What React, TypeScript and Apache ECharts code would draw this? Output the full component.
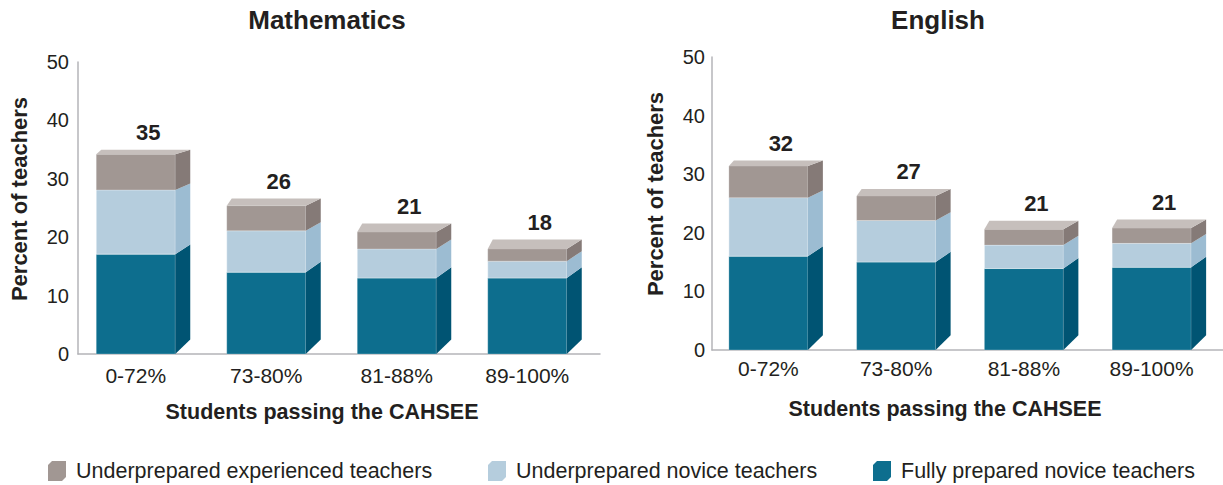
import React, { useEffect, useRef } from 'react';
import * as echarts from 'echarts';

const categories = ['0-72%', '73-80%', '81-88%', '89-100%'];
const seriesNames = [
  'Underprepared experienced teachers',
  'Underprepared novice teachers',
  'Fully prepared novice teachers',
];
const subjects = ['Mathematics', 'English'];

const mathFully = [17.1, 14.0, 13.0, 13.0];
const mathNovice = [11.0, 7.1, 5.0, 2.9];
const mathExperienced = [6.1, 4.3, 2.9, 2.1];
const mathTotals = [35, 26, 21, 18];

const engFully = [16.0, 15.0, 13.9, 14.1];
const engNovice = [10.0, 7.1, 4.0, 4.1];
const engExperienced = [5.4, 4.2, 2.7, 2.6];
const engTotals = [32, 27, 21, 21];

const yMin = 0;
const yMax = 50;
const yInterval = 10;

const FONT = '"Liberation Sans", Arial, Helvetica, sans-serif';
const TEXT = '#231f20';
const AXIS = '#b4b4b8';

const palette = {
  exp: { front: '#a19793', side: '#857a77', top: '#c6bfbc', edge: 'rgba(255,255,255,0.25)' },
  nov: { front: '#b5cddd', side: '#9cbcd2', top: '#d3e2ec', edge: 'rgba(255,255,255,0.5)' },
  full: { front: '#0d6e8e', side: '#005473', top: '#3c8ca8', edge: 'rgba(255,255,255,0.3)' },
};

const makeRender = (c: any, isTop: boolean) => (params: any, api: any) => {
  const i = api.value(0);
  const lo = api.value(1);
  const hi = api.value(2);
  const pLo = api.coord([i, lo]);
  const pHi = api.coord([i, hi]);
  const vp = api.coord([i, yMax])[1];
  const W = 79;
  const D = 15;
  const DL = 5;
  const x0 = pLo[0] - (W + D) / 2;
  const x1 = x0 + W;
  const yb = pLo[1];
  const yt = pHi[1];
  const back = (y: number) => vp + (y - vp) * 0.95;
  const children: any[] = [
    {
      type: 'rect',
      shape: { x: x0, y: yt, width: W, height: yb - yt },
      style: { fill: c.front, stroke: c.edge, lineWidth: 0.8 },
    },
    {
      type: 'polygon',
      shape: { points: [[x1, yt], [x1 + D, back(yt)], [x1 + D, back(yb)], [x1, yb]] },
      style: { fill: c.side },
    },
  ];
  if (isTop) {
    children.push({
      type: 'polygon',
      shape: { points: [[x0, yt], [x1, yt], [x1 + D, back(yt)], [x0 + DL, back(yt)]] },
      style: { fill: c.top },
    });
    children.push({
      type: 'text',
      style: {
        text: String(api.value(3)),
        x: (x0 + x1 + D) / 2 + 5,
        y: back(yt) - 6,
        align: 'center',
        verticalAlign: 'bottom',
        fontSize: 22,
        fontWeight: 'bold',
        fontFamily: FONT,
        fill: TEXT,
      },
    });
  }
  return { type: 'group', children };
};

const buildSeries = (g: number, fully: number[], novice: number[], exp: number[], totals: number[]) => [
  {
    type: 'custom',
    name: seriesNames[2],
    xAxisIndex: g,
    yAxisIndex: g,
    itemStyle: { color: palette.full.front },
    renderItem: makeRender(palette.full, false),
    encode: { x: 0, y: [1, 2] },
    data: categories.map((_, i) => [i, 0, fully[i], 0]),
  },
  {
    type: 'custom',
    name: seriesNames[1],
    xAxisIndex: g,
    yAxisIndex: g,
    itemStyle: { color: palette.nov.front },
    renderItem: makeRender(palette.nov, false),
    encode: { x: 0, y: [1, 2] },
    data: categories.map((_, i) => [i, fully[i], fully[i] + novice[i], 0]),
  },
  {
    type: 'custom',
    name: seriesNames[0],
    xAxisIndex: g,
    yAxisIndex: g,
    itemStyle: { color: palette.exp.front },
    renderItem: makeRender(palette.exp, true),
    encode: { x: 0, y: [1, 2] },
    data: categories.map((_, i) => [i, fully[i] + novice[i], fully[i] + novice[i] + exp[i], totals[i]]),
  },
];

const cubeIcon = 'path://M0,4 L4,0 L18,0 L18,16 L14,20 L0,20 Z';

export default function App() {
  const ref = useRef<HTMLDivElement>(null);

  useEffect(() => {
    if (!ref.current) return;
    const chart = echarts.init(ref.current, null, { renderer: 'svg' });

    const yAxisBase = {
      type: 'value',
      min: yMin,
      max: yMax,
      interval: yInterval,
      axisLine: { show: true, lineStyle: { color: AXIS, width: 1.5 } },
      axisTick: { show: false },
      splitLine: { show: false },
      axisLabel: { fontSize: 20, color: TEXT, fontFamily: FONT, margin: 9 },
    };
    const xAxisBase = {
      type: 'category',
      data: categories,
      axisLine: { show: true, lineStyle: { color: AXIS, width: 1.5 } },
      axisTick: { show: false },
      axisLabel: { fontSize: 21, color: TEXT, fontFamily: FONT, padding: [0, 15, 0, 0] },
    };

    const legendBase = {
      orient: 'horizontal',
      top: 460,
      padding: 0,
      icon: cubeIcon,
      itemWidth: 18,
      itemHeight: 20,
      selectedMode: false,
      textStyle: { fontSize: 21.5, color: TEXT, fontFamily: FONT, padding: [0, 0, 0, 5] },
    };

    const nameStyle = {
      fontSize: 22,
      fontWeight: 'bold',
      fontFamily: FONT,
      fill: TEXT,
      align: 'center',
      verticalAlign: 'middle',
    };

    chart.setOption({
      animation: false,
      backgroundColor: '#ffffff',
      title: [
        {
          text: subjects[0],
          left: 327,
          top: 7,
          padding: 0,
          textAlign: 'center',
          textStyle: { fontSize: 26, fontWeight: 'bold', color: TEXT, fontFamily: FONT },
        },
        {
          text: subjects[1],
          left: 938,
          top: 7,
          padding: 0,
          textAlign: 'center',
          textStyle: { fontSize: 26, fontWeight: 'bold', color: TEXT, fontFamily: FONT },
        },
      ],
      legend: [
        { ...legendBase, left: 48, data: [seriesNames[0]] },
        { ...legendBase, left: 488, data: [seriesNames[1]] },
        { ...legendBase, left: 873, data: [seriesNames[2]] },
      ],
      grid: [
        { left: 78, top: 62, width: 522, height: 292 },
        { left: 712, top: 57, width: 516, height: 293 },
      ],
      xAxis: [
        { ...xAxisBase, gridIndex: 0, axisLabel: { ...xAxisBase.axisLabel, margin: 11 } },
        { ...xAxisBase, gridIndex: 1, axisLabel: { ...xAxisBase.axisLabel, margin: 8 } },
      ],
      yAxis: [
        { ...yAxisBase, gridIndex: 0 },
        { ...yAxisBase, gridIndex: 1, axisLabel: { ...yAxisBase.axisLabel, margin: 7 } },
      ],
      graphic: [
        {
          type: 'text',
          x: 19,
          y: 199,
          rotation: Math.PI / 2,
          style: { ...nameStyle, text: 'Percent of teachers' },
        },
        {
          type: 'text',
          x: 655,
          y: 194,
          rotation: Math.PI / 2,
          style: { ...nameStyle, text: 'Percent of teachers' },
        },
        {
          type: 'text',
          x: 322,
          y: 412,
          style: { ...nameStyle, fontSize: 21.5, text: 'Students passing the CAHSEE' },
        },
        {
          type: 'text',
          x: 945,
          y: 409,
          style: { ...nameStyle, fontSize: 21.5, text: 'Students passing the CAHSEE' },
        },
      ],
      series: [
        ...buildSeries(0, mathFully, mathNovice, mathExperienced, mathTotals),
        ...buildSeries(1, engFully, engNovice, engExperienced, engTotals),
      ],
    } as any);

    return () => chart.dispose();
  }, []);

  return (
    <div
      ref={ref}
      style={{ position: 'fixed', left: 0, top: 0, width: 1223, height: 485, background: '#fff' }}
    />
  );
}
